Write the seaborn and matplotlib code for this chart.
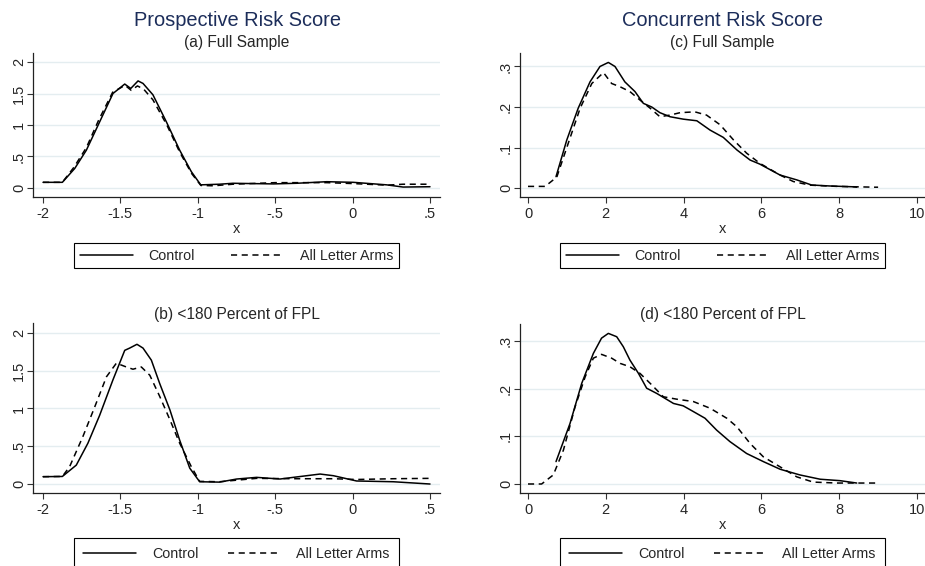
import matplotlib
matplotlib.use('Agg')
import matplotlib.pyplot as plt
import pandas as pd
import seaborn as sns

# values
pros_ticks_x = [-2, -1.5, -1, -0.5, 0, 0.5]
pros_labels_x = ['-2', '-1.5', '-1', '-.5', '0', '.5']
pros_ticks_y = [0, 0.5, 1, 1.5, 2]
pros_labels_y = ['0', '.5', '1', '1.5', '2']
conc_ticks_x = [0, 2, 4, 6, 8, 10]
conc_labels_x = ['0', '2', '4', '6', '8', '10']
conc_ticks_y = [0, 0.1, 0.2, 0.3]
conc_labels_y = ['0', '.1', '.2', '.3']

a_ctrl_x = [-2.0, -1.875, -1.795, -1.72, -1.634, -1.548, -1.472, -1.433, -1.386, -1.354, -1.29, -1.203,
            -1.117, -1.042, -0.981, -0.86, -0.773, -0.65, -0.512, -0.361, -0.167, 0.005, 0.22, 0.326, 0.5]
a_ctrl_y = [0.09, 0.09, 0.31, 0.60, 1.05, 1.50, 1.65, 1.58, 1.70, 1.66, 1.48, 1.05,
            0.60, 0.26, 0.05, 0.06, 0.075, 0.07, 0.065, 0.075, 0.10, 0.09, 0.05, 0.015, 0.02]
a_lett_x = [-2.0, -1.875, -1.80, -1.72, -1.64, -1.55, -1.47, -1.43, -1.39, -1.35, -1.29, -1.20,
            -1.117, -1.04, -0.98, -0.9, -0.773, -0.5, -0.167, 0.005, 0.22, 0.326, 0.5]
a_lett_y = [0.09, 0.09, 0.33, 0.64, 1.08, 1.52, 1.63, 1.55, 1.62, 1.57, 1.40, 1.00,
            0.57, 0.23, 0.04, 0.035, 0.06, 0.085, 0.085, 0.07, 0.045, 0.06, 0.06]

b_ctrl_x = [-2.0, -1.875, -1.785, -1.71, -1.634, -1.548, -1.472, -1.44, -1.393, -1.354, -1.30, -1.246, -1.18,
            -1.117, -1.052, -0.988, -0.86, -0.749, -0.62, -0.469, -0.383, -0.21, -0.124, 0.026, 0.263, 0.5]
b_ctrl_y = [0.097, 0.10, 0.25, 0.54, 0.91, 1.38, 1.77, 1.80, 1.85, 1.80, 1.64, 1.33, 0.98,
            0.58, 0.21, 0.03, 0.025, 0.066, 0.088, 0.066, 0.088, 0.132, 0.11, 0.04, 0.03, 0.0]
b_lett_x = [-2.0, -1.875, -1.828, -1.742, -1.666, -1.59, -1.526, -1.462, -1.419, -1.365, -1.31, -1.246,
            -1.18, -1.117, -1.042, -0.988, -0.86, -0.62, -0.383, -0.124, 0.026, 0.263, 0.5]
b_lett_y = [0.097, 0.10, 0.23, 0.63, 1.02, 1.42, 1.60, 1.55, 1.52, 1.55, 1.44, 1.16,
            0.85, 0.54, 0.23, 0.035, 0.03, 0.075, 0.07, 0.07, 0.06, 0.07, 0.075]

c_ctrl_x = [0.72, 0.995, 1.29, 1.594, 1.85, 2.065, 2.236, 2.49, 2.75, 2.965, 3.18, 3.39, 3.65,
            3.99, 4.34, 4.68, 5.02, 5.37, 5.71, 5.96, 6.48, 6.91, 7.29, 7.76, 8.36, 8.45]
c_ctrl_y = [0.028, 0.118, 0.197, 0.262, 0.300, 0.310, 0.300, 0.262, 0.238, 0.209, 0.200, 0.186, 0.176,
            0.170, 0.166, 0.143, 0.125, 0.094, 0.069, 0.059, 0.032, 0.020, 0.0074, 0.005, 0.003, 0.002]
c_lett_x = [0.0, 0.44, 0.74, 1.04, 1.34, 1.64, 1.94, 2.15, 2.365, 2.62, 2.88, 3.14, 3.39, 3.65,
            3.91, 4.29, 4.59, 4.94, 5.28, 5.62, 5.96, 6.48, 6.82, 7.25, 7.94, 8.92, 9.0]
c_lett_y = [0.004, 0.004, 0.027, 0.112, 0.197, 0.258, 0.285, 0.258, 0.250, 0.238, 0.217, 0.197, 0.176, 0.180,
            0.186, 0.188, 0.180, 0.156, 0.119, 0.086, 0.061, 0.032, 0.016, 0.007, 0.004, 0.002, 0.002]

d_ctrl_x = [0.72, 1.08, 1.38, 1.68, 1.89, 2.065, 2.28, 2.45, 2.62, 2.84, 3.05, 3.31, 3.74,
            3.99, 4.25, 4.55, 4.85, 5.19, 5.62, 6.05, 6.48, 6.99, 7.51, 8.02, 8.45]
d_ctrl_y = [0.047, 0.127, 0.211, 0.274, 0.306, 0.316, 0.309, 0.288, 0.260, 0.232, 0.201, 0.190, 0.169,
            0.164, 0.152, 0.138, 0.113, 0.089, 0.064, 0.047, 0.031, 0.019, 0.010, 0.007, 0.002]
d_lett_x = [0.0, 0.35, 0.65, 0.91, 1.21, 1.47, 1.68, 1.89, 2.15, 2.37, 2.62, 2.88, 3.18, 3.48,
            3.82, 4.25, 4.68, 5.11, 5.37, 5.71, 6.05, 6.48, 6.91, 7.33, 7.94, 8.92, 9.0]
d_lett_y = [0.0, 0.0, 0.019, 0.071, 0.162, 0.225, 0.264, 0.272, 0.264, 0.253, 0.246, 0.232, 0.208, 0.183,
            0.178, 0.173, 0.159, 0.138, 0.120, 0.085, 0.057, 0.036, 0.015, 0.004, 0.002, 0.002, 0.002]

sns.set_style('white')
plt.rcParams['font.family'] = ['Liberation Sans', 'DejaVu Sans']

W, H = 925, 566
fig = plt.figure(figsize=(W / 100, H / 100), dpi=100)
navy = '#1c2d5a'
grid_c = '#e4edf0'


def box(l, r, t, b):
    return [l / W, 1 - b / H, (r - l) / W, (b - t) / H]


def panel(pos, ctrl, lett, xlim, ylim, xt, xl, yt, yl, sub, sub_y, leg_top, bpad):
    ax = fig.add_axes(box(*pos))
    for v in yt:
        ax.axhline(v, color=grid_c, lw=1.0, zorder=0)
    sns.lineplot(x=ctrl[0], y=ctrl[1], ax=ax, color='black', lw=1.1, sort=False,
                 estimator=None, label='Control')
    sns.lineplot(x=lett[0], y=lett[1], ax=ax, color='black', lw=1.1, sort=False,
                 estimator=None, linestyle=(0, (4, 3)), label='All Letter Arms')
    ax.set_xlim(*xlim)
    ax.set_ylim(*ylim)
    ax.set_xticks(xt)
    ax.set_xticklabels(xl, fontsize=10.5)
    ax.set_yticks(yt)
    ax.set_yticklabels(yl, fontsize=10.5, rotation=90, va='center')
    ax.tick_params(axis='both', direction='out', length=4, width=0.8, color='#333333',
                   bottom=True, left=True)
    ax.tick_params(axis='x', pad=3)
    ax.tick_params(axis='y', pad=1)
    for s in ['top', 'right']:
        ax.spines[s].set_visible(False)
    for s in ['left', 'bottom']:
        ax.spines[s].set_color('#222222')
        ax.spines[s].set_linewidth(0.9)
    ax.set_xlabel('x', fontsize=10.5, labelpad=1)
    ax.set_ylabel('')
    cx = (pos[0] + min(pos[1], 925)) / 2
    fig.text(cx / W, 1 - sub_y / H, sub, ha='center', va='center', fontsize=11.2)
    leg = ax.legend(loc='upper center', bbox_to_anchor=(cx / W, 1 - leg_top / H),
                    bbox_transform=fig.transFigure, ncol=2, frameon=True, fancybox=False,
                    edgecolor='black', framealpha=1, handlelength=3.7, handletextpad=1.1,
                    columnspacing=2.5 - (bpad - 0.4) * 2, borderpad=bpad, borderaxespad=0,
                    fontsize=10.3)
    leg.get_frame().set_linewidth(0.8)
    return ax


panel((33, 440, 53, 197), (a_ctrl_x, a_ctrl_y), (a_lett_x, a_lett_y),
      (-2.0646, 0.5646), (-0.1429, 2.1429), pros_ticks_x, pros_labels_x, pros_ticks_y, pros_labels_y,
      '(a) Full Sample', 43, 243, 0.4)
panel((33, 440, 323, 493), (b_ctrl_x, b_ctrl_y), (b_lett_x, b_lett_y),
      (-2.0646, 0.5646), (-0.119, 2.132), pros_ticks_x, pros_labels_x, pros_ticks_y, pros_labels_y,
      '(b) <180 Percent of FPL', 315, 538, 0.63)
panel((520, 925, 53, 197), (c_ctrl_x, c_ctrl_y), (c_lett_x, c_lett_y),
      (-0.206, 10.206), (-0.0222, 0.3333), conc_ticks_x, conc_labels_x, conc_ticks_y, conc_labels_y,
      '(c) Full Sample', 43, 243, 0.4)
panel((520, 925, 324, 493), (d_ctrl_x, d_ctrl_y), (d_lett_x, d_lett_y),
      (-0.206, 10.206), (-0.0189, 0.3357), conc_ticks_x, conc_labels_x, conc_ticks_y, conc_labels_y,
      '(d) <180 Percent of FPL', 315, 538, 0.63)

fig.text(237 / W, 1 - 20 / H, 'Prospective Risk Score', ha='center', va='center', fontsize=14.4, color=navy)
fig.text(722 / W, 1 - 20 / H, 'Concurrent Risk Score', ha='center', va='center', fontsize=14.4, color=navy)

fig.savefig('out.png', dpi=100)
